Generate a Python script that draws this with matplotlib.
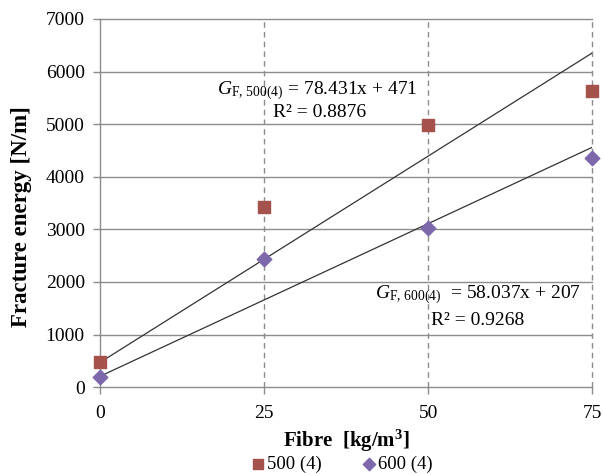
import matplotlib
matplotlib.use("Agg")
import matplotlib.pyplot as plt
import numpy as np

plt.rcParams['font.family'] = ['Liberation Serif', 'DejaVu Serif']
plt.rcParams['mathtext.fontset'] = 'custom'
plt.rcParams['mathtext.rm'] = 'Liberation Serif'
plt.rcParams['mathtext.it'] = 'Liberation Serif:italic'
plt.rcParams['mathtext.bf'] = 'Liberation Serif:bold'

# fibre content and measured fracture energies
fibre = [0, 25, 50, 75]
g500 = [480, 3420, 4990, 5640]
g600 = [200, 2430, 3020, 4360]

# linear trendlines (slope, intercept)
fit500 = (78.431, 471)
fit600 = (58.037, 207)

red = '#A5514C'
purple = '#7D68AC'
grey = '#8C8C8C'

fig = plt.figure(figsize=(6.03, 4.75), dpi=100)
ax = fig.add_axes([0.166, 0.185, 0.816, 0.775])

xs = np.array([0, 75])
ax.plot(xs, fit500[0]*xs + fit500[1], color='#333333', lw=0.9, zorder=3)
ax.plot(xs, fit600[0]*xs + fit600[1], color='#333333', lw=0.9, zorder=3)

ax.scatter(fibre, g500, marker='s', s=75, color=red, label='500 (4)', zorder=4, clip_on=False)
ax.scatter(fibre, g600, marker='D', s=55, color=purple, label='600 (4)', zorder=4, clip_on=False)

ax.set_xlim(0, 75)
ax.set_ylim(0, 7000)
ax.set_xticks([0, 25, 50, 75])
ax.set_yticks(np.arange(0, 7001, 1000))

for y in range(1000, 7001, 1000):
    ax.axhline(y, color=grey, lw=1.0, zorder=1, clip_on=False)
for x in [25, 50, 75]:
    ax.axvline(x, color=grey, lw=1.0, ls=(0, (4, 3)), zorder=1, clip_on=False)

for s in ['top', 'right']:
    ax.spines[s].set_visible(False)
for s in ['left', 'bottom']:
    ax.spines[s].set_color(grey)
    ax.spines[s].set_linewidth(1.0)
ax.tick_params(axis='both', colors=grey, length=5, width=1.0, labelsize=14, labelcolor='black')
ax.tick_params(axis='x', pad=8)
ax.tick_params(axis='y', pad=6)

ax.set_xlabel('Fibre  [kg/m$^{\\mathbf{3}}$]', fontsize=15, fontweight='bold', labelpad=4)
ax.set_ylabel('Fracture energy [N/m]', fontsize=16.5, fontweight='bold')
ax.yaxis.set_label_coords(-0.138, 0.462)

ax.text(17.8, 5630, r'$G_{\mathrm{F,\,500(4)}}$ = 78.431x + 471', fontsize=14, ha='left', va='center')
ax.text(33.4, 5231, 'R² = 0.8876', fontsize=14, ha='center', va='center')
ax.text(41.9, 1750, r'$G_{\mathrm{F,\,600(4)}}$  = 58.037x + 207', fontsize=14, ha='left', va='center')
ax.text(57.6, 1274, 'R² = 0.9268', fontsize=14, ha='center', va='center')

fig.legend(loc='center', bbox_to_anchor=(0.566, 0.022), ncol=2, frameon=False,
           fontsize=13.5, handlelength=0.8, handletextpad=0.1, columnspacing=2.1,
           markerscale=0.85)

fig.savefig('out.png', dpi=100)
